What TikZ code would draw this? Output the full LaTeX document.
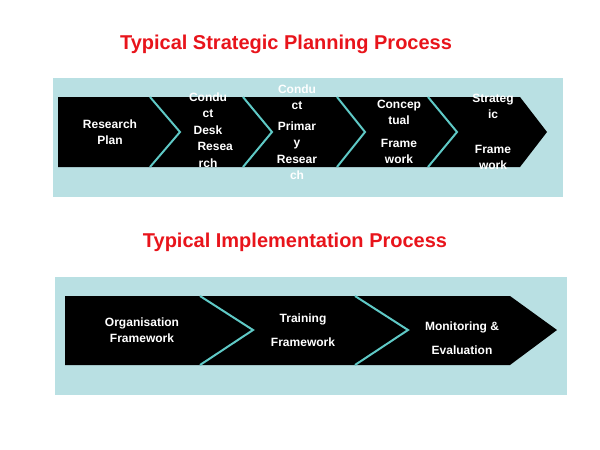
\documentclass[tikz,border=0pt]{standalone}
\usepackage{fontspec}
\setmainfont{Liberation Sans}
\usetikzlibrary{positioning}
\definecolor{panelblue}{HTML}{B9E0E3}
\definecolor{edgecyan}{HTML}{5FC9C6}
\definecolor{titlered}{HTML}{E8141B}
\tikzset{
  panel/.style={fill=panelblue, draw=none},
  chev/.style={fill=black, draw=none},
  sepline/.style={draw=edgecyan, line width=2pt, line join=miter},
  steptext/.style={text=white, font=\bfseries\fontsize{12}{16.5}\selectfont, align=center, inner sep=0pt},
  heading/.style={text=titlered, font=\bfseries\fontsize{20}{24}\selectfont}
}
\begin{document}
\begin{tikzpicture}[x=1pt,y=-1pt]
\useasboundingbox (0,0) rectangle (600,450);
%%% headings
\node[heading] (plantitle) at (286,44) {Typical Strategic Planning Process};
\node[heading] (impltitle) at (295,242) {Typical Implementation Process};
%%% strategic planning band
\fill[panel] (53,78) rectangle (563,197);
\fill[chev] (58,97) -- (520,97) -- (547,132) -- (520,167) -- (58,167) -- cycle;
\foreach \b/\t in {150/180, 243/272, 337/365, 428/457}{
  \draw[sepline] (\b,97) -- (\t,132) -- (\b,167);
}
\node[steptext] (resplan) at (110,132) {Research\\Plan};
\node[steptext] (desk) at (208,130) {Condu\\ct\\Desk\hspace{1.2em}\\\hspace{1.2em}Resea\\rch};
\node[steptext] (primary) at (297,132) {Condu\\ct\\[4pt]Primar\\y\\Resear\\ch};
\node[steptext] (concept) at (399,132) {Concep\\tual\\[6pt]Frame\\work};
\node[steptext] (strat) at (493,132) {Strateg\\ic\\[18pt]Frame\\work};
%%% implementation band
\fill[panel] (55,277) rectangle (567,395);
\fill[chev] (65,296) -- (510,296) -- (557,330) -- (510,365) -- (65,365) -- cycle;
\foreach \b/\t in {200/253, 355/408}{
  \draw[sepline] (\b,296) -- (\t,330) -- (\b,365);
}
\node[steptext] (orgfw) at (142,330) {Organisation\\Framework};
\node[steptext] (trainfw) at (303,330) {Training\hspace{1.2em}\\[8pt]Framework};
\node[steptext] (monitor) at (462,338) {Monitoring \&\\[8pt]Evaluation};
\end{tikzpicture}
\end{document}
